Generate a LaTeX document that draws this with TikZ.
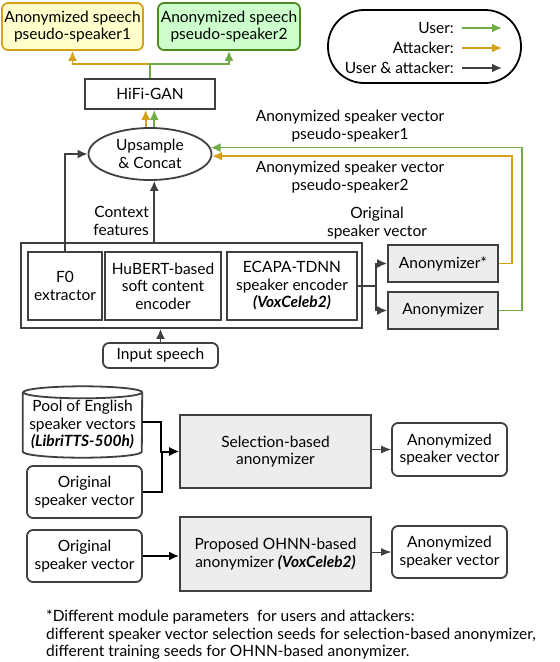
\documentclass[tikz,border=0pt]{standalone}
\usepackage{fontspec}
\setmainfont{Lato}
\usepackage{tikz}
\usetikzlibrary{shapes.geometric, arrows.meta, positioning}

\definecolor{usergreen}{HTML}{70AD47}
\definecolor{attgold}{HTML}{D4A017}
\definecolor{darkline}{HTML}{404040}
\definecolor{greybox}{HTML}{EDEDED}
\definecolor{yellowbox}{HTML}{FFFFCC}
\definecolor{greenbox}{HTML}{CCFFCC}
\definecolor{greenedge}{HTML}{4E8A21}

\tikzstyle{block} = [rectangle, draw=darkline, line width=1.8pt, fill=white, text=black, align=center, inner sep=0pt]
\tikzstyle{greyblock} = [block, fill=greybox]
\tikzstyle{roundblock} = [block, rounded corners=6pt]
\tikzstyle{speech1} = [roundblock, draw=attgold, fill=yellowbox]
\tikzstyle{speech2} = [roundblock, draw=greenedge, fill=greenbox]
\tikzstyle{lbl} = [align=center, inner sep=0pt, text=black]
\tikzstyle{cyl} = [draw=darkline, line width=1.8pt, fill=white]
\tikzstyle{user} = [line width=1.7pt, draw=usergreen, -{Latex[length=10pt,width=9pt]}]
\tikzstyle{attacker} = [line width=1.7pt, draw=attgold, -{Latex[length=10pt,width=9pt]}]
\tikzstyle{both} = [line width=1.7pt, draw=darkline, -{Latex[length=10pt,width=9pt]}]
\tikzstyle{plain} = [line width=2pt, draw=black, -{Latex[length=10pt,width=9pt]}]
\tikzstyle{thin} = [line width=0.8pt, draw=darkline, -{Latex[length=10pt,width=8pt]}]

\begin{document}
\begin{tikzpicture}[x=1pt, y=-1pt, font=\fontsize{15.5}{17.5}\selectfont]
\useasboundingbox (0,0) rectangle (560,662);

% outputs and vocoder
\node (spk1) [speech1, minimum width=141pt, minimum height=47pt] at (72.5,26.5) {Anonymized speech\\pseudo-speaker1};
\node (spk2) [speech2, minimum width=142pt, minimum height=47pt] at (229,26.5) {Anonymized speech\\pseudo-speaker2};
\node (hifi) [block, minimum width=130pt, minimum height=30pt] at (150,94) {HiFi-GAN};
\node (up) [ellipse, draw=darkline, line width=1.8pt, fill=white, align=center, inner sep=0pt, minimum width=123pt, minimum height=52pt] at (150,154) {Upsample\\\& Concat};

% legend
\node (legend) [rectangle, draw=black, line width=1.8pt, rounded corners=36pt, minimum width=193pt, minimum height=73pt] at (424.5,46.5) {};
\node (luser) [lbl, anchor=east] at (454,28) {User:};
\node (latt) [lbl, anchor=east] at (454,48) {Attacker:};
\node (lboth) [lbl, anchor=east] at (454,68) {User \& attacker:};
\coordinate (euser) at (502,28);
\coordinate (eatt) at (502,48);
\coordinate (eboth) at (502,68);
\draw [user] (luser.east) ++(8,0) -- (euser);
\draw [attacker] (latt.east) ++(8,0) -- (eatt);
\draw [both] (lboth.east) ++(8,0) -- (eboth);

% labels
\node (lab1) [lbl] at (350,126) {Anonymized speaker vector\\pseudo-speaker1};
\node (lab2) [lbl] at (350,177) {Anonymized speaker vector\\pseudo-speaker2};
\node (ctx) [lbl, align=right, anchor=east] at (149,221) {Context\\features};
\node (orig) [lbl] at (377,223) {Original\\speaker vector};

% encoders
\node (enc) [block, minimum width=341pt, minimum height=85pt] at (191.5,285.5) {};
\node (f0) [block, minimum width=74pt, minimum height=68pt] at (65,286) {F0\\extractor};
\node (hub) [block, minimum width=116pt, minimum height=68pt] at (163,286) {HuBERT-based\\soft content\\encoder};
\node (ecapa) [block, minimum width=130pt, minimum height=68pt] at (292,286) {ECAPA-TDNN\\speaker encoder\\\textbf{\textit{(VoxCeleb2)}}};
\node (input) [roundblock, minimum width=115pt, minimum height=25pt] at (160.5,355.5) {Input speech};
\node (anonA) [greyblock, minimum width=110pt, minimum height=37pt] at (443,263.5) {Anonymizer*};
\node (anonB) [greyblock, minimum width=110pt, minimum height=37pt] at (443,310.5) {Anonymizer};

% bottom: anonymizers
\node (pool) [rectangle, inner sep=0pt, minimum width=119pt, minimum height=71pt] at (82.5,422) {};
\draw [cyl] ([yshift=-6pt]pool.north west) -- ([yshift=6pt]pool.south west)
  arc[start angle=180, end angle=360, x radius=59.5pt, y radius=6pt]
  -- ([yshift=-6pt]pool.north east)
  arc[start angle=0, end angle=180, x radius=59.5pt, y radius=6pt]
  arc[start angle=180, end angle=360, x radius=59.5pt, y radius=6pt];
\node (pooltxt) [lbl] at (82.5,424.5) {Pool of English\\speaker vectors\\\textbf{\textit{(LibriTTS-500h)}}};
\node (orig1) [roundblock, minimum width=115pt, minimum height=52pt] at (84.5,492) {Original\\speaker vector};
\node (sel) [greyblock, minimum width=191pt, minimum height=73pt] at (275.5,451.5) {Selection-based\\anonymizer};
\node (anon1) [roundblock, minimum width=115pt, minimum height=53pt] at (449.5,449.5) {Anonymized\\speaker vector};
\node (orig2) [roundblock, minimum width=115pt, minimum height=52pt] at (84.5,556) {Original\\speaker vector};
\node (ohnn) [greyblock, minimum width=191pt, minimum height=74pt] at (275.5,554) {Proposed OHNN-based\\anonymizer \textbf{\textit{(VoxCeleb2)}}};
\node (anon2) [roundblock, minimum width=115pt, minimum height=52pt] at (449.5,552) {Anonymized\\speaker vector};

\node (note) [lbl, align=left, anchor=north west] at (46,610) {*Different module parameters\ \ for users and attackers:\\different speaker vector selection seeds for selection-based anonymizer,\\different training seeds for OHNN-based anonymizer.};

% connectors
\draw [attacker] (hifi.north) ++(0,-14) -| (spk1.south);
\draw [user] (hifi.north) -- ++(0,-14) -| (spk2.south);
\draw [attacker] (up.99) -- (up.99 |- hifi.south);
\draw [user] (up.81) -- (up.81 |- hifi.south);
\draw [both] (f0.north) |- (up.west);
\draw [both] (up.279 |- enc.north) -- (up.279);
\draw [both] (input.north) -- (input.north |- enc.south);
\draw [both] (ecapa.east) -- ++(18,0) |- (anonA.west);
\draw [both] (ecapa.east) -- ++(18,0) |- (anonB.west);
\draw [attacker] (anonA.east) -- ++(13,0) |- (up.-2);
\draw [user] (anonB.east) -- ++(23,0) |- (up.6);

\draw [plain] (pool.east) -- ++(19,0) |- (sel.west);
\draw [plain] (orig1.east) -- ++(19,0) |- (sel.west);
\draw [plain] (orig2.east) -- (orig2.east -| ohnn.west);
\draw [thin] (sel.east |- anon1.west) -- (anon1.west);
\draw [thin] (ohnn.east |- anon2.west) -- (anon2.west);
\end{tikzpicture}
\end{document}
